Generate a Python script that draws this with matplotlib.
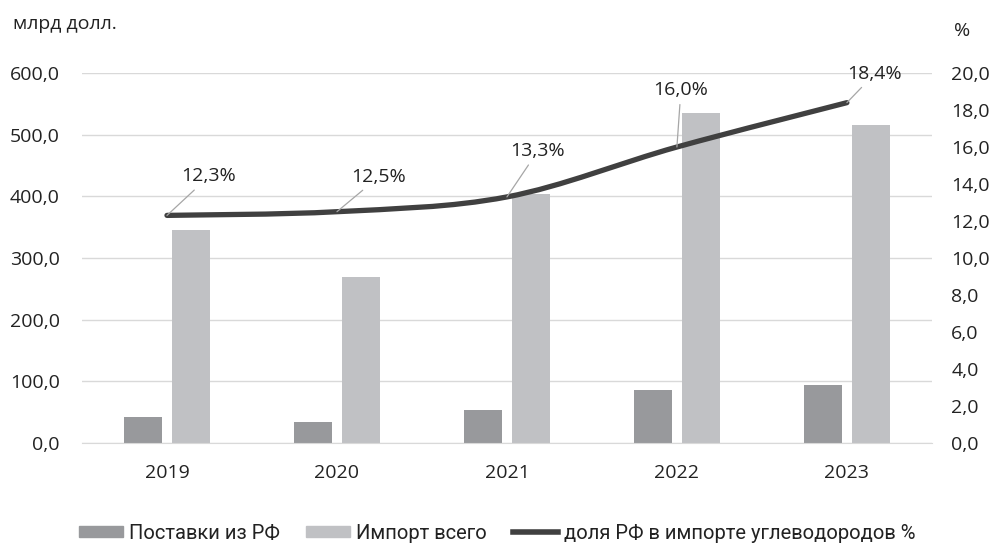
import numpy as np
import matplotlib
matplotlib.use('Agg')
import matplotlib.pyplot as plt
from matplotlib import font_manager
from matplotlib.path import Path
from matplotlib.patches import PathPatch, Patch
from matplotlib.lines import Line2D

years = ['2019', '2020', '2021', '2022', '2023']
supply_rf = [41, 33, 53, 86, 94]          # Поставки из РФ, млрд долл.
import_total = [346, 269, 404, 535, 515]  # Импорт всего, млрд долл.
share_rf = [12.3, 12.5, 13.3, 16.0, 18.4] # доля РФ, %
share_labels = ['12,3%', '12,5%', '13,3%', '16,0%', '18,4%']

# label offsets from the line points, in pixels
label_offsets = [(42, 39), (42, 35), (31, 46), (4, 57), (28, 29)]

plt.rcParams['font.family'] = ['Open Sans', 'DejaVu Sans']
text_color = '#222222'

# condensed font for the legend if there is one
legend_family = ['Roboto', 'DejaVu Sans']
try:
    font_manager.findfont(font_manager.FontProperties(family='Liberation Sans Narrow'),
                          fallback_to_default=False)
    legend_family = ['Liberation Sans Narrow', 'DejaVu Sans']
except ValueError:
    pass

fig = plt.figure(figsize=(9.94, 5.43), dpi=100)
ax = fig.add_axes([0.0825, 0.1847, 0.855, 0.6807])
ax2 = ax.twinx()

x = np.arange(len(years))
ax.bar(x - 0.143, supply_rf, 0.223, color='#98999c')
ax.bar(x + 0.143, import_total, 0.223, color='#c0c1c4')

ax.set_xlim(-0.5, len(years) - 0.5)
ax.set_ylim(0, 600)
ax.set_yticks(range(0, 601, 100))
ax.set_yticklabels([f'{v},0' for v in range(0, 601, 100)])
ax.set_xticks(x)
ax.set_xticklabels(years)
ax.yaxis.grid(True, color='#d9d9d9', lw=1.0)
ax.set_axisbelow(True)
for s in ['top', 'left', 'right']:
    ax.spines[s].set_visible(False)
ax.spines['bottom'].set_color('#d9d9d9')
ax.tick_params(axis='y', length=0, labelsize=14, pad=16, colors=text_color)
ax.tick_params(axis='x', length=0, labelsize=14, pad=15, colors=text_color)

ax2.set_ylim(0, 20)
ticks2 = np.arange(0, 21, 2)
ax2.set_yticks(ticks2)
ax2.set_yticklabels([f'{v},0' for v in ticks2])
for s in ax2.spines.values():
    s.set_visible(False)
ax2.tick_params(axis='y', length=0, labelsize=14, pad=14, colors=text_color)

# smoothed line (bezier through the points, like Excel's smooth line)
pts = np.column_stack([x, share_rf]).astype(float)
ext = np.vstack([pts[0], pts, pts[-1]])
verts = [tuple(pts[0])]
codes = [Path.MOVETO]
for i in range(len(pts) - 1):
    p0, p1, p2, p3 = ext[i], ext[i + 1], ext[i + 2], ext[i + 3]
    c1 = p1 + (p2 - p0) / 6
    c2 = p2 - (p3 - p1) / 6
    verts += [tuple(c1), tuple(c2), tuple(p2)]
    codes += [Path.CURVE4] * 3
ax2.add_patch(PathPatch(Path(verts, codes), fill=False, edgecolor='#404040',
                        lw=3.8, capstyle='round', zorder=3))

for xi, yi, lab, off in zip(x, share_rf, share_labels, label_offsets):
    ax2.annotate(lab, (xi, yi), xytext=off, textcoords='offset pixels',
                 ha='center', va='center', fontsize=14, color=text_color,
                 arrowprops=dict(arrowstyle='-', color='#a6a6a6', lw=0.9,
                                 shrinkA=2, shrinkB=0))

fig.text(13 / 994, 1 - 24 / 543, 'млрд долл.', ha='left', va='center',
         fontsize=14, color=text_color)
fig.text(962 / 994, 1 - 31 / 543, '%', ha='center', va='center',
         fontsize=14, color=text_color)

handles = [Patch(color='#98999c'), Patch(color='#c0c1c4'),
           Line2D([], [], color='#404040', lw=4)]
names = ['Поставки из РФ', 'Импорт всего', 'доля РФ в импорте углеводородов %']
fig.legend(handles, names, loc='center', bbox_to_anchor=(0.5, 0.018), ncol=3,
           frameon=False, handlelength=2.2, handleheight=0.5, handletextpad=0.3,
           columnspacing=1.3, labelcolor=text_color,
           prop=dict(family=legend_family, size=14.5))

fig.savefig('out.png', dpi=100)
